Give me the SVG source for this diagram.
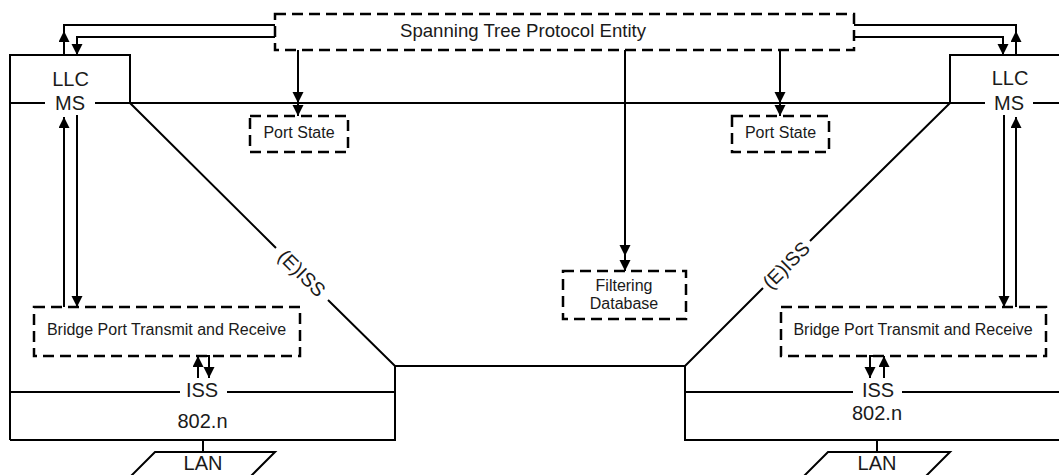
<svg xmlns="http://www.w3.org/2000/svg" width="1059" height="475" viewBox="0 0 1059 475">
<defs>
<marker id="arr" markerUnits="userSpaceOnUse" markerWidth="12" markerHeight="12" refX="11" refY="5.5" orient="auto">
<path d="M0,0 L11,5.5 L0,11 z" fill="#000"/>
</marker>
<style>
.ln{fill:none;stroke:#000;stroke-width:2}
.dash{fill:none;stroke:#000;stroke-width:2.5;stroke-dasharray:11 6}
.a{marker-end:url(#arr)}
.t{font-family:"Liberation Sans",Arial,sans-serif;fill:#1a1a1a;text-anchor:middle}
.big{font-size:20px}
.sm{font-size:16px}
</style>
</defs>
<rect width="1059" height="475" fill="#fff"/>

<g id="left-station">
<path class="ln" d="M10 440 V55 H130 V103"/>
<path class="ln" d="M10 103 H45"/>
<path class="ln" d="M10 392 H180 M227 392 H395"/>
<path class="ln" d="M10 440 H395 V366"/>
<text class="t big" x="70.5" y="86">LLC</text>
<text class="t big" x="70" y="110">MS</text>
<text class="t big" x="202" y="397">ISS</text>
<text class="t big" x="202.5" y="428">802.n</text>
</g>

<g id="right-station">
<path class="ln" d="M950 103 V55 H1059"/>
<path class="ln" d="M1033 103 H1059"/>
<path class="ln" d="M685 392 H853 M902 392 H1059"/>
<path class="ln" d="M685 366 V440 H1059"/>
<text class="t big" x="1010" y="85">LLC</text>
<text class="t big" x="1009" y="110">MS</text>
<text class="t big" x="878" y="397">ISS</text>
<text class="t big" x="877" y="420">802.n</text>
</g>

<g id="relay">
<path class="ln" d="M95 103 H985"/>
<path class="ln" d="M130 103 L276 248 M328 300 L395 366 H685 L763 288 M810 241 L950 103"/>
<text class="t" transform="translate(302,273) rotate(45)" y="7" font-size="19.5">(E)ISS</text>
<text class="t" transform="translate(786,265) rotate(-45)" y="7" font-size="19.5">(E)ISS</text>
</g>

<g id="stp-entity">
<rect class="dash" x="275" y="14" width="579" height="36"/>
<text class="t" x="523" y="37" font-size="18.6">Spanning Tree Protocol Entity</text>
</g>

<g id="port-state-left">
<rect class="dash" x="250" y="116" width="98" height="36"/>
<text class="t sm" x="299" y="138">Port State</text>
</g>

<g id="port-state-right">
<rect class="dash" x="732" y="116" width="97" height="36"/>
<text class="t sm" x="780.5" y="138">Port State</text>
</g>

<g id="filtering-database">
<rect class="dash" x="563" y="271" width="123" height="48"/>
<text class="t sm" x="624" y="291">Filtering</text>
<text class="t sm" x="624" y="309">Database</text>
</g>

<g id="bridge-port-left">
<rect class="dash" x="34" y="307" width="266" height="49"/>
<text class="t sm" x="166.5" y="335">Bridge Port Transmit and Receive</text>
</g>

<g id="bridge-port-right">
<rect class="dash" x="781" y="307" width="265" height="49"/>
<text class="t sm" x="913" y="335">Bridge Port Transmit and Receive</text>
</g>

<g id="lan-left">
<path class="ln" d="M155 452 H275 L250 477 H130 Z"/>
<text class="t big" x="203" y="470">LAN</text>
</g>

<g id="lan-right">
<path class="ln" d="M828 452 H950 L925 477 H803 Z"/>
<text class="t big" x="877" y="470">LAN</text>
</g>

<g id="connectors">
<path class="ln" d="M64 32 V25 H275"/>
<path class="ln a" d="M64 55 V31"/>
<path class="ln a" d="M275 37 H77 V55"/>
<path class="ln" d="M1016 32 V25 H854"/>
<path class="ln a" d="M1016 55 V31"/>
<path class="ln a" d="M854 37 H1003 V55"/>
<path class="ln a" d="M298 50 V103"/>
<path class="ln a" d="M298 103 V116"/>
<path class="ln a" d="M780 50 V103"/>
<path class="ln a" d="M780 103 V116"/>
<path class="ln a" d="M625 50 V256"/>
<path class="ln a" d="M625 256 V271"/>
<path class="ln a" d="M64 307 V117"/>
<path class="ln a" d="M77 115 V307"/>
<path class="ln a" d="M1016 307 V117"/>
<path class="ln a" d="M1004 115 V307"/>
<path class="ln a" d="M198 378 V356"/>
<path class="ln a" d="M198 356 H209 V378"/>
<path class="ln a" d="M884 356 H870 V378"/>
<path class="ln a" d="M884 378 V356"/>
<path class="ln" d="M203 440 V452 M877 440 V452"/>
</g>
</svg>
